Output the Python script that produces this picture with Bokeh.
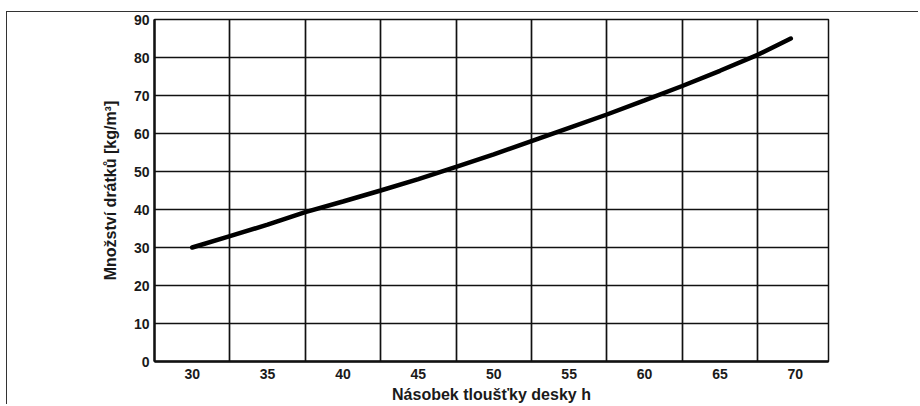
from bokeh.plotting import figure
from bokeh.models import FixedTicker, Range1d
from bokeh.embed import file_html
from bokeh.resources import INLINE

# data
x_vals = [30, 32.5, 35, 37.5, 40, 42.5, 45, 47.5, 50, 52.5, 55, 57.5, 60, 62.5, 65, 67.5, 69.7]
y_vals = [30, 33.0, 36.0, 39.3, 42.1, 45.0, 48.0, 51.2, 54.5, 58.0, 61.5, 65.0, 68.7, 72.5, 76.5, 80.7, 85.0]
x_ticks = [30, 35, 40, 45, 50, 55, 60, 65, 70]
x_grid = [32.5, 37.5, 42.5, 47.5, 52.5, 57.5, 62.5, 67.5]
y_ticks = [0, 10, 20, 30, 40, 50, 60, 70, 80, 90]
y_grid = [10, 20, 30, 40, 50, 60, 70, 80]
x_label = "Násobek tloušťky desky h"
y_label = "Množství drátků [kg/m³]"

FONT = "Liberation Sans"

p = figure(width=912, height=393, output_backend="svg", toolbar_location=None,
           x_range=Range1d(27.5, 72.2), y_range=Range1d(0, 90),
           min_border_left=147, min_border_right=91, min_border_top=7,
           min_border_bottom=44)
p.styles = {"border-top": "1.5px solid #333", "border-left": "1.5px solid #333",
            "margin-top": "11px", "margin-left": "6px"}

p.outline_line_color = "#111"
p.outline_line_width = 1.5

p.xaxis.ticker = FixedTicker(ticks=x_ticks)
p.yaxis.ticker = FixedTicker(ticks=y_ticks)
p.xgrid.ticker = FixedTicker(ticks=x_grid)
p.ygrid.ticker = FixedTicker(ticks=y_grid)
for g in (p.xgrid, p.ygrid):
    g.grid_line_color = "#111"
    g.grid_line_width = 1.7
    g.grid_line_alpha = 1.0

for ax in (p.xaxis, p.yaxis):
    ax.axis_line_color = "#111"
    ax.axis_line_width = 2.4
    ax.major_tick_line_color = None
    ax.minor_tick_line_color = None
    ax.major_tick_out = 0
    ax.major_tick_in = 0
    ax.minor_tick_out = 0
    ax.minor_tick_in = 0
    ax.major_label_text_font = FONT
    ax.major_label_text_font_style = "bold"
    ax.major_label_text_font_size = "14px"
    ax.major_label_text_color = "#1a1a1a"
    ax.axis_label_text_font = FONT
    ax.axis_label_text_font_style = "bold"
    ax.axis_label_text_font_size = "16px"
    ax.axis_label_text_color = "#1a1a1a"

p.xaxis.major_label_standoff = 7
p.xaxis.axis_label = x_label
p.xaxis.axis_label_standoff = 4
p.yaxis.major_label_standoff = 5
p.yaxis.axis_label = y_label
p.yaxis.axis_label_standoff = 12

p.line(x_vals, y_vals, line_color="black", line_width=4.5, line_cap="round")

open("out.html", "w").write(file_html(p, INLINE))
